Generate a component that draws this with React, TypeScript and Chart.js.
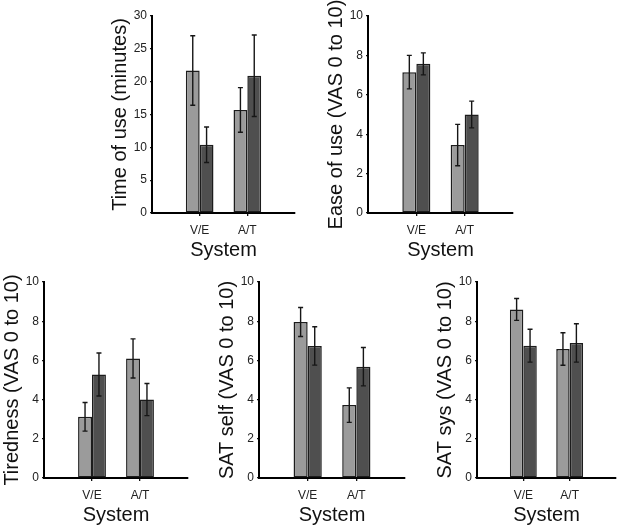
import React, { useEffect, useRef } from "react";
import { Chart, registerables } from "chart.js";

Chart.register(...registerables);

// ---------- data ----------
const categories = ["V/E", "A/T"];

const timeLight = [21.7, 15.7];
const timeLightErr = [5.3, 3.4];
const timeDark = [10.4, 20.9];
const timeDarkErr = [2.7, 6.2];

const easeLight = [7.15, 3.45];
const easeLightErr = [0.85, 1.05];
const easeDark = [7.57, 5.0];
const easeDarkErr = [0.56, 0.68];

const tiredLight = [3.12, 6.1];
const tiredLightErr = [0.73, 1.0];
const tiredDark = [5.28, 4.0];
const tiredDarkErr = [1.1, 0.82];

const satSelfLight = [7.96, 3.72];
const satSelfLightErr = [0.74, 0.88];
const satSelfDark = [6.74, 5.68];
const satSelfDarkErr = [0.98, 0.98];

const satSysLight = [8.6, 6.58];
const satSysLightErr = [0.56, 0.83];
const satSysDark = [6.75, 6.89];
const satSysDarkErr = [0.84, 0.98];

const xTitle = "System";

// ---------- styles ----------
const LIGHT = "#9b9b9b";
const DARK = "#4f4f4f";
const EDGE = "#1c1c1c";
const FONT = "'Liberation Sans', Arial, Helvetica, sans-serif";

Chart.defaults.font.family = FONT;

const errorBarPlugin = {
  id: "errorBars",
  afterDatasetsDraw(chart: any) {
    const ctx = chart.ctx;
    const yS = chart.scales.y;
    ctx.save();
    ctx.strokeStyle = "#161616";
    ctx.lineWidth = 1.4;
    chart.data.datasets.forEach((ds: any, i: number) => {
      const meta = chart.getDatasetMeta(i);
      meta.data.forEach((bar: any, j: number) => {
        const v = ds.data[j].y;
        const e = ds.errors[j];
        const yt = yS.getPixelForValue(v + e);
        const yb = yS.getPixelForValue(v - e);
        const x = bar.x;
        const cap = 2.5;
        ctx.beginPath();
        ctx.moveTo(x, yt);
        ctx.lineTo(x, yb);
        ctx.moveTo(x - cap, yt);
        ctx.lineTo(x + cap, yt);
        ctx.moveTo(x - cap, yb);
        ctx.lineTo(x + cap, yb);
        ctx.stroke();
      });
    });
    ctx.restore();
  },
};

type PanelProps = {
  title: string;
  light: number[];
  lightErr: number[];
  dark: number[];
  darkErr: number[];
  yMax: number;
  yStep: number;
  axisX: number;
  plotTop: number;
  plotBottom: number;
  plotRight: number;
};

const Y_W = 44;
const TOP_PAD = 16;
const X_H = 50;
const RIGHT_PAD = 8;

function Panel(p: PanelProps) {
  const ref = useRef<HTMLCanvasElement | null>(null);
  const left = p.axisX - Y_W;
  const top = p.plotTop - TOP_PAD;
  const width = p.plotRight + RIGHT_PAD - left;
  const height = p.plotBottom + X_H - top;

  useEffect(() => {
    if (!ref.current) return;
    const toPts = (arr: number[]) => arr.map((v, i) => ({ x: i + 1, y: v }));
    const chart = new Chart(ref.current, {
      type: "bar",
      data: {
        datasets: [
          {
            label: "light",
            data: toPts(p.light),
            errors: p.lightErr,
            backgroundColor: LIGHT,
            borderColor: EDGE,
            borderWidth: 1.5,
            borderSkipped: false,
          } as any,
          {
            label: "dark",
            data: toPts(p.dark),
            errors: p.darkErr,
            backgroundColor: DARK,
            borderColor: EDGE,
            borderWidth: 1.5,
            borderSkipped: false,
          } as any,
        ],
      },
      options: {
        animation: false,
        responsive: false,
        devicePixelRatio: 1,
        categoryPercentage: 0.58,
        barPercentage: 1,
        layout: { padding: { top: TOP_PAD, right: RIGHT_PAD, left: 0, bottom: 0 } },
        plugins: { legend: { display: false }, tooltip: { enabled: false } },
        scales: {
          x: {
            type: "linear",
            min: 0,
            max: categories.length + 1,
            offset: false,
            afterBuildTicks: (s: any) => {
              s.ticks = categories.map((_, i) => ({ value: i + 1 }));
            },
            afterFit: (s: any) => {
              s.height = X_H;
            },
            ticks: {
              callback: (v: any) => categories[Number(v) - 1] ?? "",
              autoSkip: false,
              maxRotation: 0,
              padding: 7,
              color: "#222",
              font: { size: 12 },
            },
            grid: {
              display: true,
              offset: false,
              drawOnChartArea: false,
              drawTicks: true,
              tickLength: 3,
              color: "#111",
              lineWidth: 1.3,
            },
            border: { display: true, color: "#000", width: 2 },
            title: {
              display: true,
              text: xTitle,
              color: "#111",
              font: { size: 20 },
              padding: { top: 0, bottom: 1 },
            },
          } as any,
          y: {
            type: "linear",
            min: 0,
            max: p.yMax,
            afterFit: (s: any) => {
              s.width = Y_W;
            },
            ticks: {
              stepSize: p.yStep,
              padding: 3,
              color: "#222",
              font: { size: 12 },
            },
            grid: {
              display: true,
              drawOnChartArea: false,
              drawTicks: true,
              tickLength: 2,
              color: "#111",
              lineWidth: 1.2,
            },
            border: { display: true, color: "#000", width: 2 },
            title: {
              display: true,
              text: p.title,
              color: "#111",
              font: { size: 20 },
              padding: { top: 0, bottom: 0 },
            },
          } as any,
        },
      },
      plugins: [errorBarPlugin],
    });
    return () => chart.destroy();
  }, []);

  return (
    <div style={{ position: "absolute", left, top, width, height }}>
      <canvas ref={ref} width={width} height={height} style={{ display: "block" }} />
    </div>
  );
}

export default function App() {
  return (
    <div
      style={{
        position: "absolute",
        left: 0,
        top: 0,
        width: 624,
        height: 528,
        background: "#fff",
        overflow: "hidden",
      }}
    >
      <Panel title="Time of use (minutes)" light={timeLight} lightErr={timeLightErr} dark={timeDark} darkErr={timeDarkErr}
        yMax={30} yStep={5} axisX={152} plotTop={16} plotBottom={213} plotRight={295} />
      <Panel title="Ease of use (VAS 0 to 10)" light={easeLight} lightErr={easeLightErr} dark={easeDark} darkErr={easeDarkErr}
        yMax={10} yStep={2} axisX={368} plotTop={16} plotBottom={213} plotRight={513} />
      <Panel title="Tiredness (VAS 0 to 10)" light={tiredLight} lightErr={tiredLightErr} dark={tiredDark} darkErr={tiredDarkErr}
        yMax={10} yStep={2} axisX={44} plotTop={282} plotBottom={478} plotRight={188} />
      <Panel title="SAT self (VAS 0 to 10)" light={satSelfLight} lightErr={satSelfLightErr} dark={satSelfDark} darkErr={satSelfDarkErr}
        yMax={10} yStep={2} axisX={259} plotTop={282} plotBottom={478} plotRight={405} />
      <Panel title="SAT sys (VAS 0 to 10)" light={satSysLight} lightErr={satSysLightErr} dark={satSysDark} darkErr={satSysDarkErr}
        yMax={10} yStep={2} axisX={477} plotTop={282} plotBottom={478} plotRight={616} />
    </div>
  );
}
